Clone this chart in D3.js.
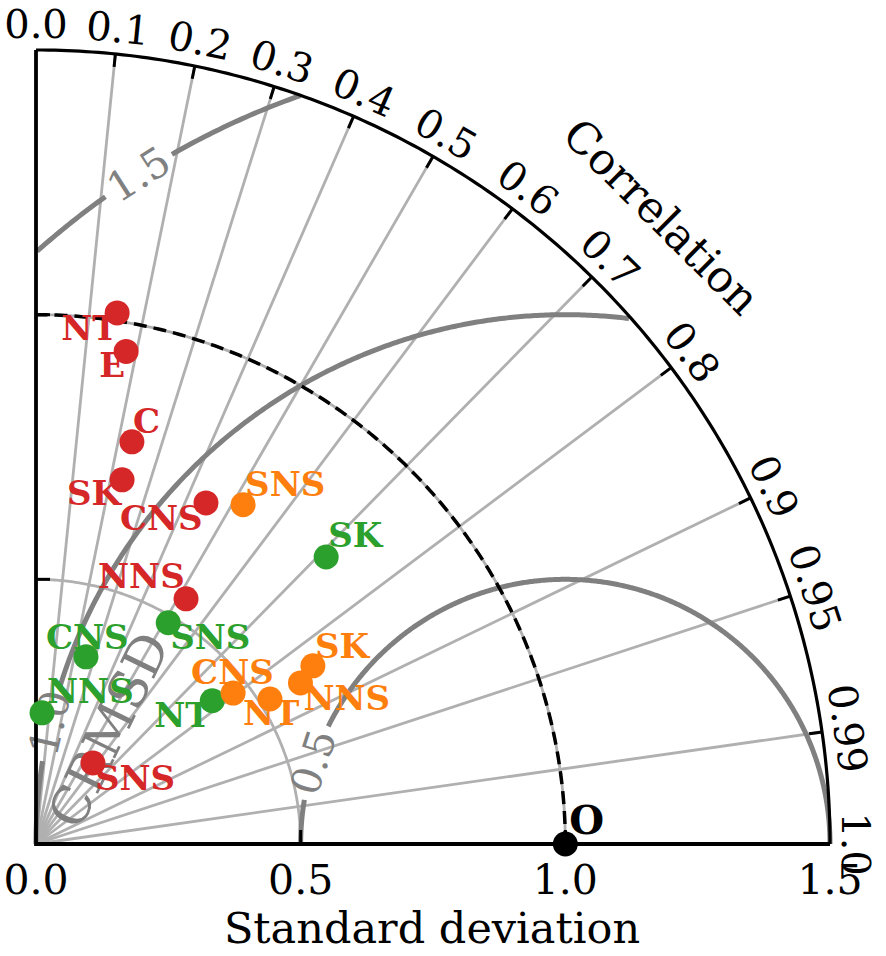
<!DOCTYPE html>
<html>
<head>
<meta charset="utf-8">
<script src="https://cdn.jsdelivr.net/npm/d3@7"></script>
<style>
  html, body { margin: 0; padding: 0; background: #fff; }
  svg { display: block; }
  text { font-family: "DejaVu Serif", serif; }
</style>
</head>
<body>
<svg id="chart" width="886" height="956"></svg>
<script>
// ---------------- data ----------------
const stdTicks = [0.0, 0.5, 1.0, 1.5];
const stdTickLabels = ["0.0", "0.5", "1.0", "1.5"];
const corrTicks = [0.0, 0.1, 0.2, 0.3, 0.4, 0.5, 0.6, 0.7, 0.8, 0.9, 0.95, 0.99, 1.0];
const corrTickLabels = ["0.0", "0.1", "0.2", "0.3", "0.4", "0.5", "0.6", "0.7", "0.8", "0.9", "0.95", "0.99", "1.0"];
const rmsdLevels = [0.5, 1.0, 1.5];
const rmsdLevelLabels = ["0.5", "1.0", "1.5"];
const refStd = 1.0;
const refLabel = "O";

const redLabels = ["NT", "E", "C", "SK", "CNS", "NNS", "SNS"];
const redStd    = [1.015, 0.946, 0.781, 0.707, 0.720, 0.543, 0.187];
const redCorr   = [0.151, 0.180, 0.232, 0.230, 0.446, 0.522, 0.575];

const greenLabels = ["SK", "SNS", "CNS", "NNS", "NT"];
const greenStd    = [0.771, 0.487, 0.366, 0.248, 0.429];
const greenCorr   = [0.711, 0.513, 0.258, 0.046, 0.776];

const orangeLabels = ["SNS", "SK", "NNS", "CNS", "NT"];
const orangeStd    = [0.751, 0.622, 0.585, 0.469, 0.520];
const orangeCorr   = [0.521, 0.841, 0.854, 0.794, 0.850];

// label placement (pixel offsets of the text start / baseline from the marker)
const redLabelOffsets    = [[-56, 27], [-27, 26], [1, -9], [-55, 25], [-86, 27], [-88, -11], [2, 27]];
const greenLabelOffsets  = [[2, -10], [2, 26], [-40, -8], [5, -10], [-58, 26]];
const orangeLabelOffsets = [[2, -9], [2, -8], [3, 27], [-42, -9], [-27, 26]];

// ---------------- layout ----------------
const maxStd = 1.5;
const x = d3.scaleLinear().domain([0, maxStd]).range([36, 830]);
const y = d3.scaleLinear().domain([0, maxStd]).range([844, 50]);
const unit = x(1) - x(0);

const svg = d3.select("#chart");
const P = (r, th) => [x(r * Math.cos(th)), y(r * Math.sin(th))];
const line = d3.line();

function arcPts(r, a0, a1, n = 200) {
  return d3.range(n + 1).map(i => P(r, a0 + (a1 - a0) * i / n));
}

const gCorr = svg.append("g");
// correlation grid lines
corrTicks.filter(c => c > 0 && c < 1).forEach(c => {
  const th = Math.acos(c);
  gCorr.append("path")
    .attr("d", line([P(0, th), P(maxStd, th)]))
    .attr("stroke", "#b0b0b0").attr("stroke-width", 2.8).attr("fill", "none");
});
// std grid arcs
[0.5, 1.0].forEach(r => {
  svg.append("path").attr("d", line(arcPts(r, 0, Math.PI / 2)))
    .attr("stroke", "#b0b0b0").attr("stroke-width", 2.8).attr("fill", "none");
});

// ---------------- RMSD contours ----------------
const gR = svg.append("g");
const labelT = {0.5: 162 * Math.PI / 180, 1.0: 166.8 * Math.PI / 180, 1.5: 122.5 * Math.PI / 180};
rmsdLevels.forEach((rho, i) => {
  const tl = labelT[rho];
  const rot = Math.atan2(Math.cos(tl), Math.sin(tl)) * 180 / Math.PI;
  const cx = refStd + rho * Math.cos(tl), cy = rho * Math.sin(tl);
  const txt = gR.append("text")
    .attr("transform", `translate(${x(cx)},${y(cy)}) rotate(${rot})`)
    .attr("text-anchor", "middle").attr("dominant-baseline", "central")
    .attr("font-size", 41).attr("fill", "#808080")
    .text(rmsdLevelLabels[i]);
  const w = txt.node().getComputedTextLength();
  const half = (w / 2 + 6) / (rho * unit);
  const n = 600;
  let segs = [], cur = [];
  for (let k = 0; k <= n; k++) {
    const t = Math.PI * k / n;
    const px = refStd + rho * Math.cos(t), py = rho * Math.sin(t);
    const inside = px >= -1e-9 && Math.hypot(px, py) <= maxStd + 1e-9 && Math.abs(t - tl) > half;
    if (inside) cur.push([x(px), y(py)]);
    else if (cur.length) { segs.push(cur); cur = []; }
  }
  if (cur.length) segs.push(cur);
  segs.forEach(s => gR.insert("path", "text").attr("d", line(s))
    .attr("stroke", "#808080").attr("stroke-width", 5).attr("fill", "none"));
});
// CRMSD axis label
gR.append("text")
  .attr("transform", `translate(109,730) rotate(-64)`)
  .attr("text-anchor", "middle").attr("dominant-baseline", "central")
  .attr("font-size", 52).attr("fill", "#808080")
  .text("CRMSD");

// reference std arc (dashed)
svg.append("path").attr("d", line(arcPts(refStd, 0, Math.PI / 2)))
  .attr("stroke", "#000").attr("stroke-width", 3.5).attr("fill", "none")
  .attr("stroke-dasharray", "13,7");

// ---------------- axes ----------------
const gA = svg.append("g");
gA.append("path").attr("d", line(arcPts(maxStd, 0, Math.PI / 2)))
  .attr("stroke", "#000").attr("stroke-width", 3.2).attr("fill", "none");
gA.append("path").attr("d", line([[x(0), y(maxStd)], [x(0), y(0)], [x(maxStd), y(0)]]))
  .attr("stroke", "#000").attr("stroke-width", 3.8).attr("fill", "none");

// correlation ticks + labels
corrTicks.forEach((c, i) => {
  const th = Math.acos(c);
  if (c > 0 && c < 1) {
    const [x1, y1] = P(maxStd, th);
    gA.append("line")
      .attr("x1", x1).attr("y1", y1)
      .attr("x2", x1 - 13 * Math.cos(th)).attr("y2", y1 + 13 * Math.sin(th))
      .attr("stroke", "#000").attr("stroke-width", 3);
  }
  const [lx, ly] = P(1.549, th);
  gA.append("text")
    .attr("transform", `translate(${lx},${ly}) rotate(${90 - th * 180 / Math.PI})`)
    .attr("text-anchor", "middle").attr("dominant-baseline", "central")
    .attr("font-size", 40).attr("fill", "#000")
    .text(corrTickLabels[i]);
});
// correlation title
{
  const th = Math.acos(0.706);
  const [lx, ly] = P(1.674, th);
  gA.append("text")
    .attr("transform", `translate(${lx},${ly}) rotate(${90 - th * 180 / Math.PI})`)
    .attr("text-anchor", "middle").attr("dominant-baseline", "central")
    .attr("font-size", 44).attr("fill", "#000")
    .text("Correlation");
}

// std ticks
stdTicks.forEach((s, i) => {
  if (s > 0 && s < maxStd) {
    gA.append("line").attr("x1", x(s)).attr("x2", x(s))
      .attr("y1", y(0)).attr("y2", y(0) - 14).attr("stroke", "#000").attr("stroke-width", 3);
    gA.append("line").attr("y1", y(s)).attr("y2", y(s))
      .attr("x1", x(0)).attr("x2", x(0) + 14).attr("stroke", "#000").attr("stroke-width", 3);
  }
  gA.append("text")
    .attr("x", x(s)).attr("y", y(0) + 50)
    .attr("text-anchor", "middle")
    .attr("font-size", 41).attr("fill", "#000")
    .text(stdTickLabels[i]);
});
gA.append("text")
  .attr("x", 432).attr("y", 943)
  .attr("text-anchor", "middle")
  .attr("font-size", 43).attr("fill", "#000")
  .text("Standard deviation");

// ---------------- points ----------------
const series = [
  {labels: redLabels, std: redStd, corr: redCorr, off: redLabelOffsets, color: "#d62728"},
  {labels: greenLabels, std: greenStd, corr: greenCorr, off: greenLabelOffsets, color: "#2ca02c"},
  {labels: orangeLabels, std: orangeStd, corr: orangeCorr, off: orangeLabelOffsets, color: "#ff7f0e"}
];
const gP = svg.append("g");
const gL = svg.append("g");
series.forEach(sr => {
  sr.std.forEach((s, i) => {
    const th = Math.acos(sr.corr[i]);
    const [px, py] = P(s, th);
    gP.append("circle").attr("cx", px).attr("cy", py).attr("r", 12.5).attr("fill", sr.color);
    gL.append("text")
      .attr("x", px + sr.off[i][0]).attr("y", py + sr.off[i][1])
      .attr("font-size", 34).attr("font-weight", "bold").attr("fill", sr.color)
      .text(sr.labels[i]);
  });
});
// reference point
gP.append("circle").attr("cx", x(refStd)).attr("cy", y(0)).attr("r", 12.5).attr("fill", "#000");
gL.append("text")
  .attr("x", x(refStd) + 4).attr("y", y(0) - 10)
  .attr("font-size", 40).attr("font-weight", "bold").attr("fill", "#000")
  .text(refLabel);
</script>
</body>
</html>
